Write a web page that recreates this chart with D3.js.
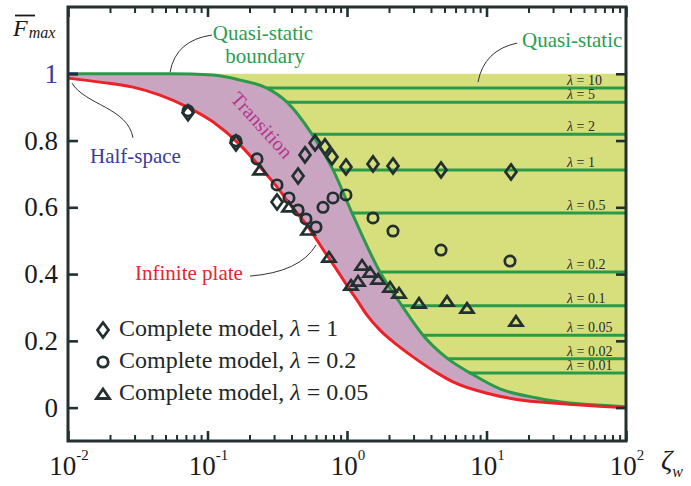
<!DOCTYPE html>
<html>
<head>
<meta charset="utf-8">
<script src="https://cdn.jsdelivr.net/npm/d3@7"></script>
<style>
  body { margin: 0; background: #fff; }
</style>
</head>
<body>
<svg id="chart" width="691" height="486"></svg>
<script>
// Quasi-static boundary: normalised peak force vs. ζw
const boundaryZeta = [0.01, 0.0538, 0.1094, 0.1711, 0.2670, 0.3715, 0.5610, 0.7943, 1.086, 1.724, 2.478, 3.506, 5.297, 7.617, 12.50, 23.0, 39.7, 80.7, 100];
const boundaryF    = [1.0, 1.0, 0.996, 0.981, 0.957, 0.915, 0.819, 0.712, 0.583, 0.406, 0.305, 0.217, 0.146, 0.104, 0.056, 0.029, 0.014, 0.005, 0.002];

// Infinite plate solution
const plateZeta = [0.01, 0.01696, 0.02924, 0.04565, 0.07129, 0.1094, 0.1711, 0.2378, 0.3149, 0.3904, 0.5167, 0.6730, 0.8479, 1.017, 1.180, 1.391, 1.724, 2.282, 2.972, 4.418, 5.754, 10.08, 17.39, 29.98, 80.7, 100];
const plateF    = [0.987, 0.975, 0.960, 0.936, 0.901, 0.856, 0.787, 0.721, 0.661, 0.609, 0.546, 0.474, 0.412, 0.361, 0.322, 0.277, 0.232, 0.188, 0.152, 0.104, 0.077, 0.043, 0.023, 0.014, 0.002, 0.0003];

// Half-space limit (short segment at F = 1)
const halfSpaceZeta = [0.01, 0.0118];
const halfSpaceF    = [1, 1];

// Complete model, λ = 1
const diamondZeta = [0.0725, 0.160, 0.315, 0.446, 0.500, 0.590, 0.695, 0.781, 0.983, 1.536, 2.137, 4.72, 14.98];
const diamondF    = [0.883, 0.793, 0.616, 0.694, 0.757, 0.793, 0.781, 0.751, 0.721, 0.730, 0.724, 0.712, 0.706];

// Complete model, λ = 0.2
const circleZeta = [0.0725, 0.160, 0.2264, 0.315, 0.3838, 0.446, 0.5083, 0.5995, 0.673, 0.7937, 0.983, 1.536, 2.137, 4.72, 14.74];
const circleF    = [0.889, 0.799, 0.745, 0.667, 0.628, 0.592, 0.565, 0.541, 0.600, 0.628, 0.637, 0.568, 0.529, 0.472, 0.439];

// Complete model, λ = 0.05
const triangleZeta = [0.2378, 0.3838, 0.5253, 0.743, 1.068, 1.199, 1.281, 1.462, 1.668, 2.033, 2.359, 3.282, 5.211, 7.246, 16.27];
const triangleF    = [0.712, 0.601, 0.532, 0.451, 0.367, 0.379, 0.427, 0.406, 0.385, 0.361, 0.343, 0.313, 0.319, 0.298, 0.259];

// Quasi-static levels for each λ
const lambdaLabels = ["10", "5", "2", "1", "0.5", "0.2", "0.1", "0.05", "0.02", "0.01"];
const lambdaF      = [0.957, 0.915, 0.819, 0.712, 0.583, 0.406, 0.305, 0.217, 0.146, 0.104];

// Axis ticks
const xMajorTicks = [0.01, 0.1, 1, 10, 100];
const xTickExponents = ["-2", "-1", "0", "1", "2"];
const yTicks = [0, 0.2, 0.4, 0.6, 0.8, 1];
const yTickLabels = ["0", "0.2", "0.4", "0.6", "0.8", "1"];

const legendLabels = ["1", "0.2", "0.05"];

// ---------------------------------------------------------------
const FONT = '"Liberation Serif"';
const C = {
  yellow: "#d7df7d",
  pink: "#caa5c2",
  green: "#2b9a48",
  red: "#e8232a",
  blue: "#3b3b9e",
  ink: "#223030",
  magenta: "#b2388c",
  greenText: "#2c9d4f",
  redText: "#e4262d"
};

const svg = d3.select("#chart");
const x = d3.scaleLog().domain([0.01, 100]).range([68, 626]);
const y = d3.scaleLinear().domain([-0.1, 1.2]).range([441, 7]);

const zip = (a, b) => a.map((v, i) => [v, b[i]]);
const boundary = zip(boundaryZeta, boundaryF);
const plate = zip(plateZeta, plateF);

const line = d3.line()
  .x(d => x(d[0]))
  .y(d => y(d[1]))
  .curve(d3.curveMonotoneX);

const gFill = svg.append("g");
const gLevels = svg.append("g");
const gCurves = svg.append("g");
const gMarks = svg.append("g");
const gAxes = svg.append("g");
const gText = svg.append("g");

// Every text element uses the serif face
function label(parent) {
  return parent.append("text").style("font-family", FONT);
}

// Quasi-static region (between the boundary and F = 1)
gFill.append("path")
  .attr("d", line(boundary) + `L${x(100)},${y(1)}L${x(0.01)},${y(1)}Z`)
  .attr("fill", C.yellow);

// Transition region (between the boundary and the infinite plate)
const plateBack = line(plate.slice().reverse());
gFill.append("path")
  .attr("d", line(boundary) + "L" + plateBack.slice(1) + "Z")
  .attr("fill", C.pink);

// Boundary curve
const boundaryPath = gCurves.append("path")
  .attr("d", line(boundary))
  .attr("fill", "none")
  .attr("stroke", C.green)
  .attr("stroke-width", 3);

// Sample the boundary so each λ level starts where it meets the curve
const bNode = boundaryPath.node();
const bLen = bNode.getTotalLength();
const samples = d3.range(0, 1201).map(i => bNode.getPointAtLength(bLen * i / 1200));
function boundaryXAt(py) {
  for (let i = 1; i < samples.length; i++) {
    const a = samples[i - 1], b = samples[i];
    if (a.y < py && b.y >= py) {
      const t = (py - a.y) / (b.y - a.y);
      return a.x + t * (b.x - a.x);
    }
  }
  return x(100);
}

lambdaF.forEach((f, i) => {
  const py = y(f);
  gLevels.append("line")
    .attr("x1", boundaryXAt(py)).attr("x2", x(100))
    .attr("y1", py).attr("y2", py)
    .attr("stroke", C.green)
    .attr("stroke-width", 3);
  const t = label(gText)
    .attr("x", x(100) - 59)
    .attr("y", py - 3)
    .attr("font-size", 14)
    .attr("fill", "#2a2a2a");
  t.append("tspan").attr("font-style", "italic").text("λ");
  t.append("tspan").text(" = " + lambdaLabels[i]);
});

// Infinite plate curve
gCurves.append("path")
  .attr("d", line(plate))
  .attr("fill", "none")
  .attr("stroke", C.red)
  .attr("stroke-width", 3);

// Half-space segment
gCurves.append("path")
  .attr("d", d3.line().x(d => x(d[0])).y(d => y(d[1]))(zip(halfSpaceZeta, halfSpaceF)))
  .attr("stroke", C.blue)
  .attr("stroke-width", 3);

// Marker shapes
const shapes = {
  diamond: "M0,-7.5L5.5,0L0,7.5L-5.5,0Z",
  circle: "M5.2,0A5.2,5.2 0 1,1 -5.2,0A5.2,5.2 0 1,1 5.2,0Z",
  triangle: "M0,-5L6.5,4.5L-6.5,4.5Z"
};
function drawMarks(zs, fs, shape) {
  gMarks.selectAll(null)
    .data(zip(zs, fs))
    .join("path")
    .attr("d", shapes[shape])
    .attr("transform", d => `translate(${x(d[0])},${y(d[1])})`)
    .attr("fill", "none")
    .attr("stroke", C.ink)
    .attr("stroke-width", 2.7)
    .attr("stroke-linejoin", "miter");
}
drawMarks(diamondZeta, diamondF, "diamond");
drawMarks(circleZeta, circleF, "circle");
drawMarks(triangleZeta, triangleF, "triangle");

// Axes: inward ticks on all four sides
const minorTicks = [];
[0.01, 0.1, 1, 10].forEach(d => { for (let k = 2; k <= 9; k++) minorTicks.push(d * k); });

function styleAxis(g, w) {
  g.select(".domain").remove();
  g.selectAll(".tick line").attr("stroke", C.ink).attr("stroke-width", w);
  g.selectAll(".tick text").remove();
}
gAxes.append("g").attr("transform", `translate(0,${y.range()[0]})`)
  .call(d3.axisBottom(x).tickValues(xMajorTicks).tickSize(-10)).call(g => styleAxis(g, 2.6));
gAxes.append("g").attr("transform", `translate(0,${y.range()[0]})`)
  .call(d3.axisBottom(x).tickValues(minorTicks).tickSize(-6)).call(g => styleAxis(g, 2));
gAxes.append("g").attr("transform", `translate(0,${y.range()[1]})`)
  .call(d3.axisTop(x).tickValues(xMajorTicks).tickSize(-10)).call(g => styleAxis(g, 2.6));
gAxes.append("g").attr("transform", `translate(0,${y.range()[1]})`)
  .call(d3.axisTop(x).tickValues(minorTicks).tickSize(-6)).call(g => styleAxis(g, 2));
gAxes.append("g").attr("transform", `translate(${x.range()[0]},0)`)
  .call(d3.axisLeft(y).tickValues(yTicks).tickSize(-10)).call(g => styleAxis(g, 2.6));
gAxes.append("g").attr("transform", `translate(${x.range()[1]},0)`)
  .call(d3.axisRight(y).tickValues(yTicks).tickSize(-10)).call(g => styleAxis(g, 2.6));

gAxes.append("rect")
  .attr("x", x.range()[0]).attr("y", y.range()[1])
  .attr("width", x.range()[1] - x.range()[0])
  .attr("height", y.range()[0] - y.range()[1])
  .attr("fill", "none")
  .attr("stroke", C.ink)
  .attr("stroke-width", 3);

// Tick labels
yTicks.forEach((v, i) => {
  label(gText)
    .attr("x", 58).attr("y", y(v) + 9)
    .attr("text-anchor", "end")
    .attr("font-size", 27)
    .attr("fill", v === 1 ? C.blue : "#1a1a1a")
    .text(yTickLabels[i]);
});
xMajorTicks.forEach((v, i) => {
  const t = label(gText)
    .attr("x", x(v) + 1).attr("y", 475)
    .attr("text-anchor", "middle")
    .attr("font-size", 27)
    .attr("fill", "#1a1a1a");
  t.append("tspan").text("10");
  t.append("tspan").attr("dy", -15).attr("font-size", 15).text(xTickExponents[i]);
});

// Axis titles
const xt = label(gText).attr("x", 661).attr("y", 469).attr("fill", "#1a1a1a");
xt.append("tspan").attr("font-size", 28).attr("font-style", "italic").text("ζ");
xt.append("tspan").attr("font-size", 16).attr("font-style", "italic").attr("dy", 8).text("w");

const yt = label(gText).attr("x", 13).attr("y", 36).attr("fill", "#1a1a1a");
yt.append("tspan").attr("font-size", 24).attr("font-style", "italic").text("F");
yt.append("tspan").attr("font-size", 16).attr("font-style", "italic").attr("dy", 2).attr("dx", 1).text("max");
// overbar on F
gText.append("line").attr("x1", 15).attr("x2", 35).attr("y1", 15.5).attr("y2", 15.5)
  .attr("stroke", "#1a1a1a").attr("stroke-width", 1.8);

// Annotation leaders (data coordinates)
const P = d => `${x(d[0])},${y(d[1])}`;
const leaders = [
  ["Q", [0.0539, 1.005], [0.0594, 1.101], [0.1077, 1.116]],
  ["Q", [8.69, 0.975], [9.59, 1.071], [16.6, 1.092]],
  ["C", [0.01068, 0.972], [0.01324, 0.907], [0.02692, 0.898], [0.02924, 0.808]],
  ["Q", [0.2018, 0.394], [0.460, 0.406], [0.600, 0.487]]
];
leaders.forEach(l => {
  const [cmd, start, ...rest] = l;
  gText.append("path")
    .attr("d", `M${P(start)}${cmd}${rest.map(P).join(" ")}`)
    .attr("fill", "none")
    .attr("stroke", "#333")
    .attr("stroke-width", 1);
});

// Region labels
label(gText).attr("x", 263).attr("y", 40).attr("text-anchor", "middle")
  .attr("font-size", 21).attr("fill", C.greenText).text("Quasi-static");
label(gText).attr("x", 265).attr("y", 63).attr("text-anchor", "middle")
  .attr("font-size", 21).attr("fill", C.greenText).text("boundary");
label(gText).attr("x", 522).attr("y", 47)
  .attr("font-size", 21).attr("fill", C.greenText).text("Quasi-static");
label(gText).attr("x", 90).attr("y", 163)
  .attr("font-size", 21).attr("fill", C.blue).text("Half-space");
label(gText).attr("x", 135).attr("y", 280)
  .attr("font-size", 21).attr("fill", C.redText).text("Infinite plate");
label(gText)
  .attr("transform", "translate(262,125) rotate(48)")
  .attr("text-anchor", "middle").attr("dominant-baseline", "central")
  .attr("font-size", 20).attr("fill", C.magenta).text("Transition");

// Legend
const legendShapes = ["diamond", "circle", "triangle"];
legendShapes.forEach((s, i) => {
  const base = 336 + i * 32;
  gText.append("path")
    .attr("d", shapes[s])
    .attr("transform", `translate(103,${base - 6})`)
    .attr("fill", "none").attr("stroke", C.ink).attr("stroke-width", 2.8);
  const t = label(gText).attr("x", 119).attr("y", base)
    .attr("font-size", 24).attr("fill", "#1e2828");
  t.append("tspan").text("Complete model, ");
  t.append("tspan").attr("font-style", "italic").text("λ");
  t.append("tspan").text(" = " + legendLabels[i]);
});
</script>
</body>
</html>
